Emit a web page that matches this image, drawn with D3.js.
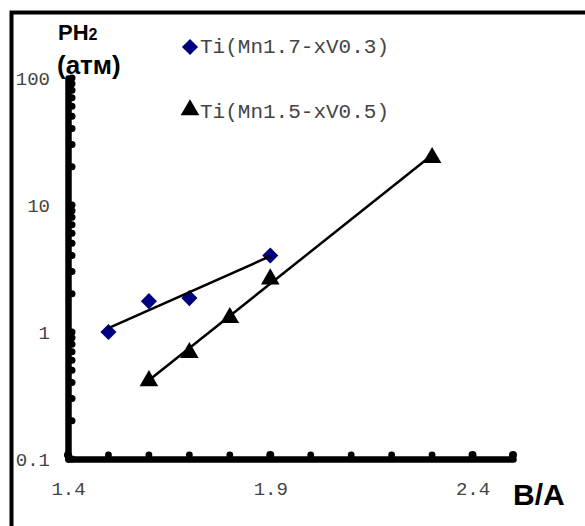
<!DOCTYPE html>
<html>
<head>
<meta charset="utf-8">
<script src="https://cdn.jsdelivr.net/npm/d3@7"></script>
<style>
  body { margin: 0; background: #fff; }
  text { font-family: "Liberation Mono", "Courier New", monospace; }
  .bold { font-family: "Liberation Sans", Arial, sans-serif; font-weight: bold; fill: #000; }
</style>
</head>
<body>
<svg width="585" height="526"></svg>
<script>
// B/A ratio and plateau pressure (atm)
var s1Name = "Ti(Mn1.7-xV0.3)",
  s1X = [1.5, 1.6, 1.7, 1.9],
  s1Y = [1.0, 1.75, 1.85, 4.0];

var s2Name = "Ti(Mn1.5-xV0.5)",
  s2X = [1.6, 1.7, 1.8, 1.9, 2.3],
  s2Y = [0.42, 0.70, 1.32, 2.66, 24];

var xTickLabels = [1.4, 1.9, 2.4],
  yTickLabels = [0.1, 1, 10, 100];

var svg = d3.select("svg");

var x = d3.scaleLinear().domain([1.4, 2.5]).range([68, 513]),
  y = d3.scaleLog().domain([0.1, 100]).range([459, 78]);

// outer frame (only left and top edges fall inside the picture)
svg.append("rect")
  .attr("x", 11.5).attr("y", 12.5)
  .attr("width", 700).attr("height", 700)
  .attr("fill", "none").attr("stroke", "#000").attr("stroke-width", 4);

// axes
var yAxis = svg.append("g")
  .attr("transform", "translate(68,0)")
  .call(d3.axisLeft(y).tickValues(yTickLabels).tickSize(0).tickPadding(18)
    .tickFormat(function(d) { return d3.format("~g")(d); }));
var xAxis = svg.append("g")
  .attr("transform", "translate(0,459)")
  .call(d3.axisBottom(x).tickValues(xTickLabels).tickSize(0).tickPadding(23)
    .tickFormat(d3.format(".1f")));

[yAxis, xAxis].forEach(function(a) {
  a.select(".domain").attr("stroke", "#000").attr("stroke-width", 6.5)
    .attr("stroke-linejoin", "round").attr("stroke-linecap", "round");
  a.selectAll("text").attr("fill", "#444").style("font-size", "19px")
    .style("font-family", "'Liberation Mono', monospace");
});

// dotted tick marks along the axes
svg.append("g").selectAll("circle")
  .data(y.ticks())
  .enter().append("circle")
    .attr("cx", 72).attr("cy", function(d) { return y(d); })
    .attr("r", 3.5).attr("fill", "#000");

svg.append("g").selectAll("circle")
  .data(d3.range(0, 12).map(function(i) { return +(1.4 + i * 0.1).toFixed(1); }))
  .enter().append("circle")
    .attr("cx", function(d) { return x(d); }).attr("cy", 455)
    .attr("r", function(d) { return xTickLabels.indexOf(d) != -1 || d == 2.5 ? 4 : 3.4; })
    .attr("fill", "#000");

var diamond = d3.symbol().type(d3.symbolSquare).size(130)(),
  triangle = d3.symbol().type(d3.symbolTriangle).size(150)();

svg.append("g").selectAll("path")
  .data(s1X)
  .enter().append("path")
    .attr("d", diamond)
    .attr("transform", function(d, i) { return "translate(" + x(d) + "," + y(s1Y[i]) + ") rotate(45)"; })
    .attr("fill", "#000080");

svg.append("g").selectAll("path")
  .data(s2X)
  .enter().append("path")
    .attr("d", triangle)
    .attr("transform", function(d, i) { return "translate(" + x(d) + "," + (y(s2Y[i]) + 1) + ")"; })
    .attr("fill", "#000");

// exponential trendline (least squares on log10 values)
function trend(xs, ys) {
  var ly = ys.map(function(v) { return Math.log10(v); }),
    mx = d3.mean(xs), my = d3.mean(ly), sxx = 0, sxy = 0;
  xs.forEach(function(v, i) {
    sxx += (v - mx) * (v - mx);
    sxy += (v - mx) * (ly[i] - my);
  });
  var b = sxy / sxx, ends = d3.extent(xs);
  return ends.map(function(v) { return [v, Math.pow(10, my + b * (v - mx))]; });
}

var line = d3.line()
  .x(function(d) { return x(d[0]); })
  .y(function(d) { return y(d[1]); });

[[s1X, s1Y], [s2X, s2Y]].forEach(function(s) {
  svg.append("path")
    .attr("d", line(trend(s[0], s[1])))
    .attr("fill", "none").attr("stroke", "#000").attr("stroke-width", 2.5);
});

// legend
var legend = svg.append("g");
legend.append("path").attr("d", diamond).attr("transform", "translate(190,47) rotate(45)").attr("fill", "#000080");
legend.append("text").attr("x", 200).attr("y", 53).attr("fill", "#444").style("font-size", "21px").text(s1Name);
legend.append("path").attr("d", triangle).attr("transform", "translate(190,110)").attr("fill", "#000");
legend.append("text").attr("x", 200).attr("y", 118).attr("fill", "#444").style("font-size", "21px").text(s2Name);

// axis titles
var ph = svg.append("text").attr("class", "bold").attr("x", 58).attr("y", 40).style("font-size", "22px");
ph.append("tspan").text("PH");
ph.append("tspan").style("font-size", "16px").text("2");
svg.append("text").attr("class", "bold").attr("x", 57).attr("y", 74).style("font-size", "26px").text("(атм)");
svg.append("text").attr("class", "bold").attr("x", 513).attr("y", 505).style("font-size", "30px").text("B/A");
</script>
</body>
</html>
